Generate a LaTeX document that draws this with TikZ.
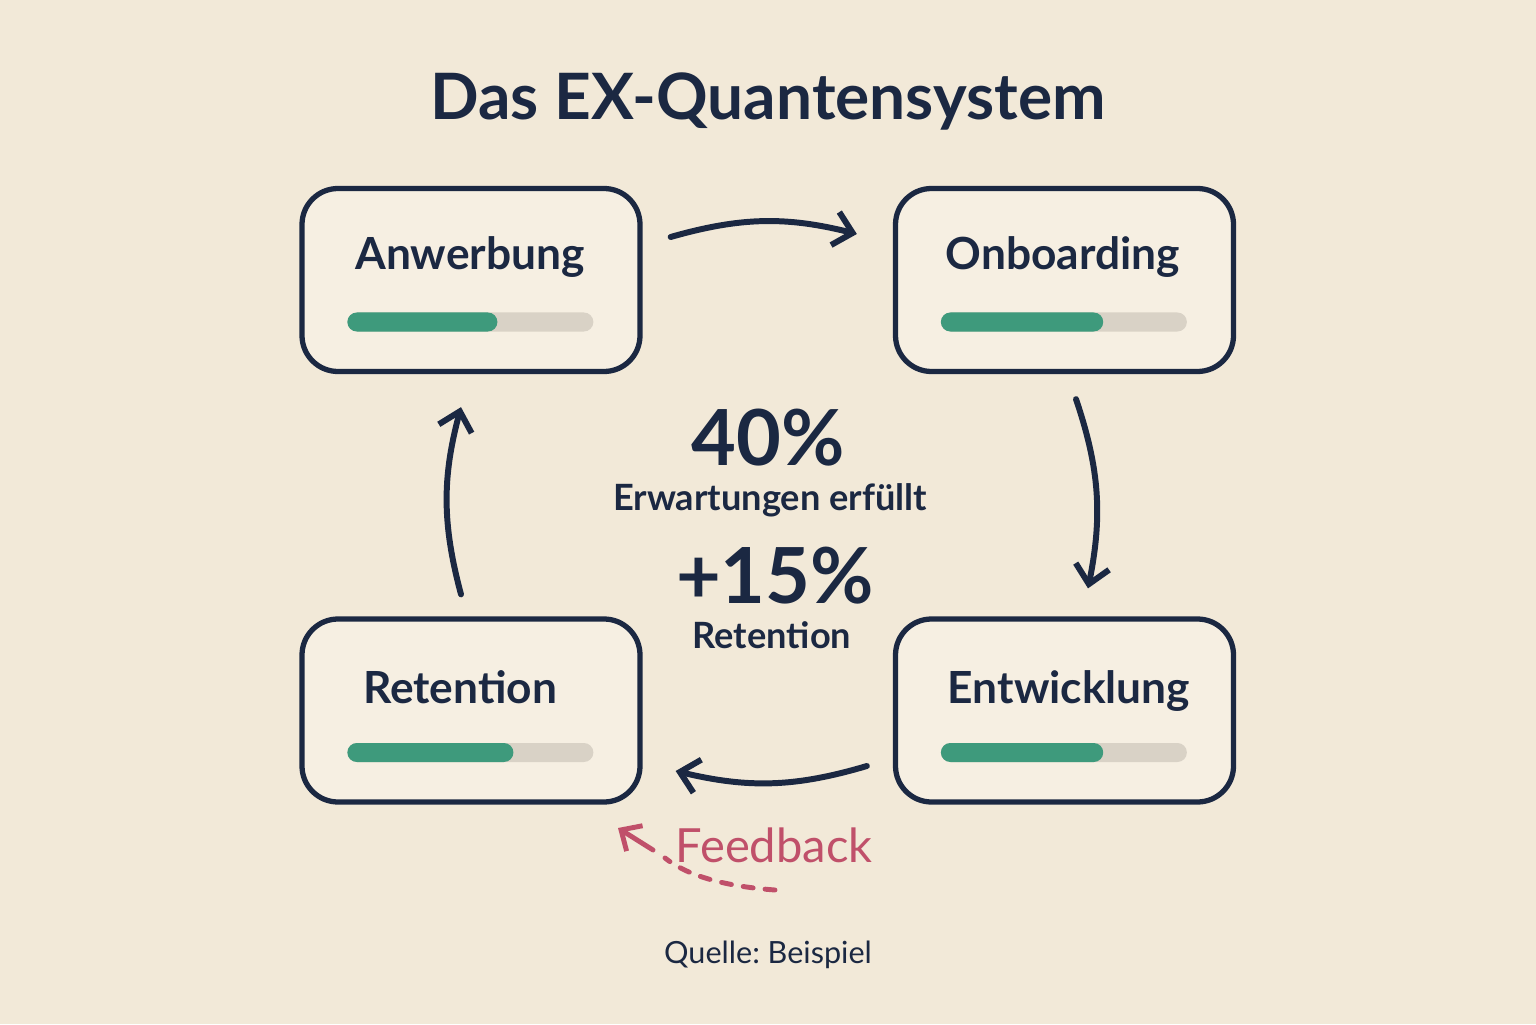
\documentclass[tikz,border=0pt]{standalone}
\usepackage{fontspec}
\setmainfont{Lato}
\usetikzlibrary{arrows.meta}
\frenchspacing
\definecolor{paper}{RGB}{242,233,216}
\definecolor{card}{RGB}{246,239,226}
\definecolor{ink}{RGB}{27,40,66}
\definecolor{barfill}{RGB}{62,154,124}
\definecolor{bartrack}{RGB}{217,210,198}
\definecolor{fbred}{RGB}{192,80,106}
\newcommand{\progbar}[2]{%
  \fill[bartrack,rounded corners=0.095cm] ([xshift=0.48cm,yshift=-0.515cm]#1.west) rectangle +(2.46,0.19);
  \fill[barfill,rounded corners=0.095cm] ([xshift=0.48cm,yshift=-0.515cm]#1.west) rectangle +({2.46*#2},0.19);}

\begin{document}
\begin{tikzpicture}[
    phase/.style={draw=ink, line width=1.5pt, fill=card, rounded corners=0.36cm,
      minimum width=3.38cm, minimum height=1.83cm},
    phaselabel/.style={anchor=base, text=ink, font=\bfseries\fontsize{12.6}{14}\selectfont},
    flow/.style={draw=ink, line width=1.7pt, line cap=round,
      -{Straight Barb[length=1.8mm,width=3.4mm,line width=1.7pt]}},
    bignum/.style={anchor=base, text=ink, font=\bfseries\fontsize{22}{25}\selectfont},
    smalltext/.style={anchor=base, text=ink, font=\bfseries\fontsize{10.3}{12}\selectfont}]
        \fill[paper] (0, 0) rectangle (15.36, 10.24);
        \useasboundingbox (0, 0) rectangle (15.36, 10.24);

        \node[anchor=base, text=ink, font=\bfseries\fontsize{18.2}{22}\selectfont] (title) at (7.68, 9.04) {Das EX-Quantensystem};

        % the four phases
        \node[phase] (anw) at (4.71, 7.44) {};
        \node[phase] (onb) at (10.645, 7.44) {};
        \node[phase] (ret) at (4.71, 3.135) {};
        \node[phase] (ent) at (10.645, 3.135) {};
        \node[phaselabel] (anwl) at (4.70, 7.54) {Anwerbung};
        \node[phaselabel] (onbl) at (10.63, 7.54) {Onboarding};
        \node[phaselabel] (retl) at (4.60, 3.21) {Retention};
        \node[phaselabel] (entl) at (10.69, 3.21) {Entwicklung};
        \progbar{anw}{0.61}
        \progbar{onb}{0.66}
        \progbar{ret}{0.675}
        \progbar{ent}{0.66}

        % cycle
        \draw[flow] ([xshift=0.28cm, yshift=0.43cm]anw.east) to[bend left=15] ([xshift=-0.36cm, yshift=0.46cm]onb.west);
        \draw[flow] ([xshift=0.115cm, yshift=-0.25cm]onb.south) to[bend left=15] ([xshift=0.235cm, yshift=0.28cm]ent.north);
        \draw[flow] ([xshift=-0.26cm, yshift=-0.555cm]ent.west) to[bend left=15] ([xshift=0.33cm, yshift=-0.605cm]ret.east);
        \draw[flow] ([xshift=-0.10cm, yshift=0.22cm]ret.north) to[bend left=15] ([xshift=-0.10cm, yshift=-0.33cm]anw.south);

        % figures in the middle
        \node[bignum] (pct) at (7.68, 5.59) {40\%};
        \node[smalltext] (pctl) at (7.70, 5.14) {Erwartungen erfüllt};
        \node[bignum] (gain) at (7.75, 4.21) {+15\%};
        \node[smalltext] (gainl) at (7.72, 3.76) {Retention};

        % feedback
        \node[anchor=base, text=fbred, font=\fontsize{13.4}{16}\selectfont] (fb) at (7.74, 1.62) {Feedback};
        \coordinate (fbtail) at (7.75, 1.34);
        \coordinate (fbmid) at (6.65, 1.66);
        \coordinate (fbtip) at (6.18, 1.96);
        \draw[fbred, line width=1.4pt, line cap=round, dash pattern=on 0.1cm off 0.12cm] (fbtail) .. controls (7.2, 1.38) and (6.85, 1.5) .. (fbmid);
        \draw[fbred, line width=1.4pt, line cap=round, -{Straight Barb[length=1.6mm,width=3mm,line width=1.4pt]}] ([xshift=-0.12cm, yshift=0.08cm]fbmid) -- (fbtip);

        \node[anchor=base, text=ink, font=\fontsize{8.7}{11}\selectfont] (src) at (7.68, 0.61) {Quelle: Beispiel};
\end{tikzpicture}
\end{document}
